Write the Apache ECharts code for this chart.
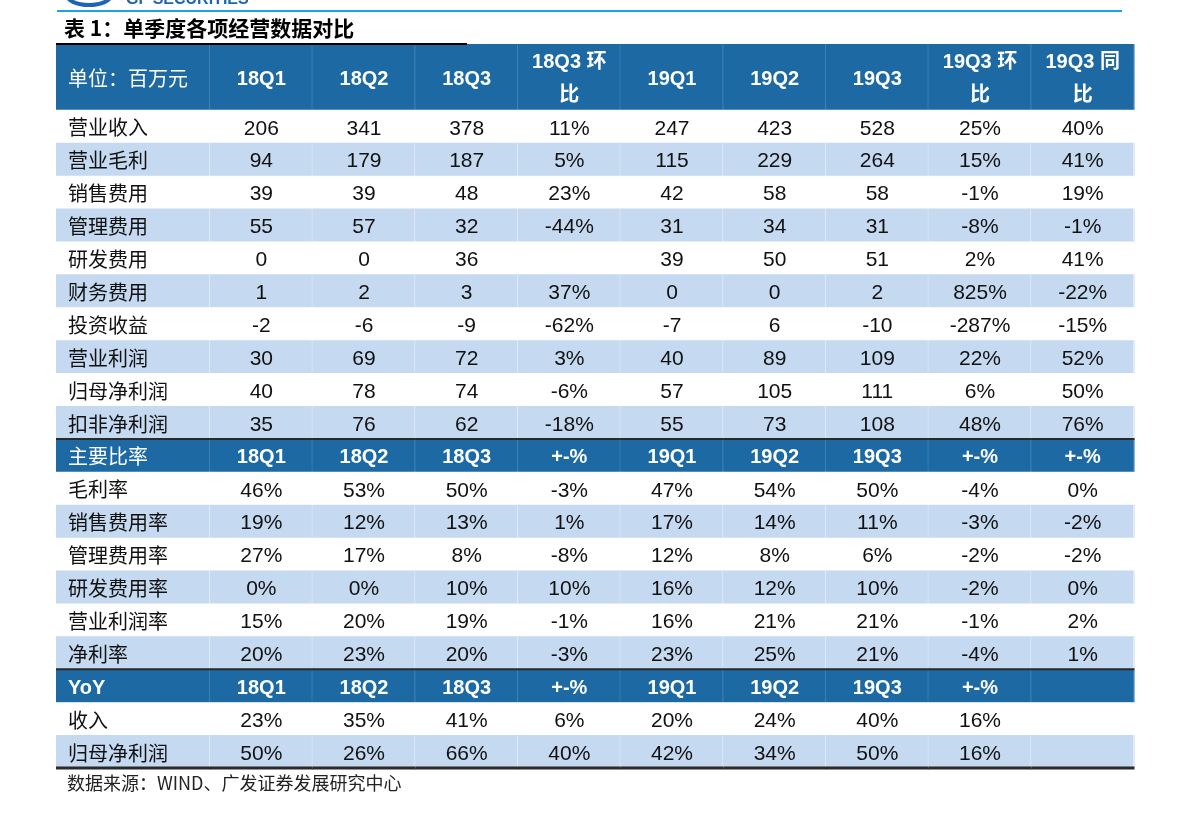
<!DOCTYPE html>
<html>
<head>
<meta charset="utf-8">
<script src="https://cdn.jsdelivr.net/npm/echarts@6/dist/echarts.min.js"></script>
<style>
  html, body { margin: 0; padding: 0; background: #fff; }
  #main { width: 1191px; height: 815px; }
</style>
</head>
<body>
<div id="main"></div>
<script>
// 表头
var headCols = ['18Q1', '18Q2', '18Q3', '18Q3 环\n比', '19Q1', '19Q2', '19Q3', '19Q3 环\n比', '19Q3 同\n比'];

// 经营数据（百万元）
var opLabels = ['营业收入', '营业毛利', '销售费用', '管理费用', '研发费用', '财务费用', '投资收益', '营业利润', '归母净利润', '扣非净利润'];
var opValues = [
  ['206', '341', '378', '11%', '247', '423', '528', '25%', '40%'],
  ['94', '179', '187', '5%', '115', '229', '264', '15%', '41%'],
  ['39', '39', '48', '23%', '42', '58', '58', '-1%', '19%'],
  ['55', '57', '32', '-44%', '31', '34', '31', '-8%', '-1%'],
  ['0', '0', '36', '', '39', '50', '51', '2%', '41%'],
  ['1', '2', '3', '37%', '0', '0', '2', '825%', '-22%'],
  ['-2', '-6', '-9', '-62%', '-7', '6', '-10', '-287%', '-15%'],
  ['30', '69', '72', '3%', '40', '89', '109', '22%', '52%'],
  ['40', '78', '74', '-6%', '57', '105', '111', '6%', '50%'],
  ['35', '76', '62', '-18%', '55', '73', '108', '48%', '76%']
];

// 主要比率
var ratioHead = ['18Q1', '18Q2', '18Q3', '+-%', '19Q1', '19Q2', '19Q3', '+-%', '+-%'];
var ratioLabels = ['毛利率', '销售费用率', '管理费用率', '研发费用率', '营业利润率', '净利率'];
var ratioValues = [
  ['46%', '53%', '50%', '-3%', '47%', '54%', '50%', '-4%', '0%'],
  ['19%', '12%', '13%', '1%', '17%', '14%', '11%', '-3%', '-2%'],
  ['27%', '17%', '8%', '-8%', '12%', '8%', '6%', '-2%', '-2%'],
  ['0%', '0%', '10%', '10%', '16%', '12%', '10%', '-2%', '0%'],
  ['15%', '20%', '19%', '-1%', '16%', '21%', '21%', '-1%', '2%'],
  ['20%', '23%', '20%', '-3%', '23%', '25%', '21%', '-4%', '1%']
];

// YoY
var yoyHead = ['18Q1', '18Q2', '18Q3', '+-%', '19Q1', '19Q2', '19Q3', '+-%', ''];
var yoyLabels = ['收入', '归母净利润'];
var yoyValues = [
  ['23%', '35%', '41%', '6%', '20%', '24%', '40%', '16%', ''],
  ['50%', '26%', '66%', '40%', '42%', '34%', '50%', '16%', '']
];

var HEAD = '#1c69a4';
var LIGHT = '#c5d9f1';
var CJK = '"Noto Sans CJK SC"';
var LATIN = '"Liberation Sans", Arial, "Noto Sans CJK SC"';

// 行: row -1 为表头（占两格高）
var rows = [];
function addBlock(labels, values) {
  labels.forEach(function (l, i) {
    rows.push({ label: l, cells: values[i], kind: i % 2 === 0 ? 'white' : 'blue' });
  });
}
addBlock(opLabels, opValues);
rows.push({ label: '主要比率', cells: ratioHead, kind: 'sec' });
addBlock(ratioLabels, ratioValues);
rows.push({ label: 'YoY', cells: yoyHead, kind: 'sec' });
addBlock(yoyLabels, yoyValues);

var cells = [];
cells.push({ col: 0, row: -1, text: '单位：百万元', kind: 'head' });
headCols.forEach(function (t, c) { cells.push({ col: c + 1, row: -1, text: t, kind: 'head' }); });
rows.forEach(function (r, ri) {
  cells.push({ col: 0, row: ri, text: r.label, kind: r.kind });
  r.cells.forEach(function (t, c) { cells.push({ col: c + 1, row: ri, text: t, kind: r.kind }); });
});
var lastRow = rows.length - 1;

var myChart = echarts.init(document.getElementById('main'));

function renderCell(params, api) {
  var d = cells[params.dataIndex];
  var x0 = d.col === 0 ? 0 : 1.5 + d.col - 1;
  var x1 = d.col === 0 ? 1.5 : x0 + 1;
  var y0 = d.row < 0 ? 0 : d.row + 2;
  var y1 = d.row < 0 ? 2 : d.row + 3;
  var p0 = api.coord([x0, y0]);
  var p1 = api.coord([x1, y1]);
  var w = p1[0] - p0[0], h = p1[1] - p0[1];
  var dark = d.kind === 'head' || d.kind === 'sec';
  var fill = dark ? HEAD : (d.kind === 'blue' ? LIGHT : '#ffffff');
  var children = [{
    type: 'rect',
    shape: { x: p0[0], y: p0[1], width: w + 0.5, height: h + 0.5 },
    style: { fill: fill }
  }];
  // 淡色竖线
  if (d.kind !== 'white') {
    children.push({
      type: 'line',
      shape: { x1: p1[0] - 0.5, y1: p0[1], x2: p1[0] - 0.5, y2: p1[1] },
      style: { stroke: dark ? 'rgba(255,255,255,0.16)' : 'rgba(255,255,255,0.45)', lineWidth: 1 }
    });
  }
  var isLabel = d.col === 0;
  var cjkLabel = isLabel && d.text !== 'YoY';
  var font;
  if (cjkLabel) {
    font = { fontFamily: CJK, fontSize: 20, fontWeight: 'normal', dy: 1.5 };
  } else if (dark) {
    font = { fontFamily: LATIN, fontSize: 20, fontWeight: 'bold', dy: 2.5 };
  } else {
    font = { fontFamily: LATIN, fontSize: 21, fontWeight: 'normal', dy: 2.5 };
  }
  children.push({
    type: 'text',
    style: {
      text: d.text,
      x: isLabel ? p0[0] + 12 : p0[0] + w / 2,
      y: p0[1] + h / 2 + font.dy,
      align: isLabel ? 'left' : 'center',
      verticalAlign: 'middle',
      fill: dark ? '#ffffff' : '#111111',
      fontFamily: font.fontFamily,
      fontSize: font.fontSize,
      fontWeight: font.fontWeight,
      lineHeight: 33
    }
  });
  if (d.kind === 'sec') {
    children.push({
      type: 'line',
      shape: { x1: p0[0], y1: p0[1], x2: p1[0] + 0.5, y2: p0[1] },
      style: { stroke: '#2a2a2a', lineWidth: 2 }
    });
  }
  if (d.row === lastRow) {
    children.push({
      type: 'line',
      shape: { x1: p0[0], y1: p1[1], x2: p1[0] + 0.5, y2: p1[1] },
      style: { stroke: '#2a2a2a', lineWidth: 3 }
    });
  }
  return { type: 'group', children: children };
}

var option = {
  animation: false,
  grid: { left: 56, right: 57, top: 44, bottom: 47 },
  xAxis: { type: 'value', min: 0, max: 10.5, show: false },
  yAxis: { type: 'value', min: 0, max: 22, inverse: true, show: false },
  graphic: [
    // 顶部 logo 残片
    {
      type: 'ellipse', shape: { cx: 89, cy: -5, rx: 22, ry: 10 },
      style: { fill: 'none', stroke: '#1f66b0', lineWidth: 4 }
    },
    {
      type: 'text', left: 126, top: -8,
      style: { text: 'GF SECURITIES', fill: '#1f66b0', font: 'bold 16px "Liberation Sans"' }
    },
    {
      type: 'line', shape: { x1: 57, y1: 11, x2: 1122, y2: 11 },
      style: { stroke: '#1ba3e6', lineWidth: 2 }
    },
    {
      type: 'text', left: 64, top: 18,
      style: { text: '表 1：单季度各项经营数据对比', fill: '#000', font: 'bold 21px "Noto Sans CJK SC"' }
    },
    {
      type: 'line', shape: { x1: 56, y1: 44, x2: 467, y2: 44 },
      style: { stroke: '#000', lineWidth: 2 }, z: 100
    },
    {
      type: 'text', left: 67, top: 774,
      style: { text: '数据来源：WIND、广发证券发展研究中心', fill: '#222', font: '18px "Noto Sans CJK SC"' }
    }
  ],
  series: [{
    type: 'custom',
    renderItem: renderCell,
    data: cells.map(function (d) { return [d.col, d.row]; }),
    encode: { x: 0, y: 1 },
    clip: false
  }]
};
myChart.setOption(option);
</script>
</body>
</html>
